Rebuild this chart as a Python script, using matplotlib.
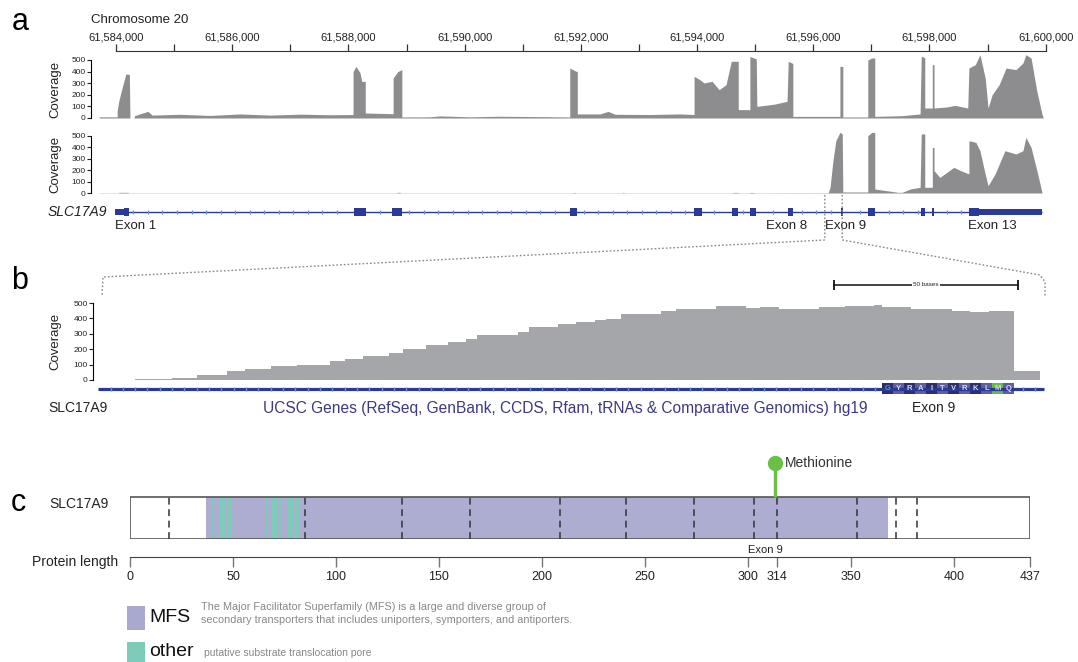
import numpy as np
import matplotlib
matplotlib.use('Agg')
import matplotlib.pyplot as plt
from matplotlib.patches import Rectangle
from matplotlib.ticker import MultipleLocator, FuncFormatter
import matplotlib.transforms as mtransforms

plt.rcParams['font.family'] = ['Liberation Sans', 'DejaVu Sans']

W, H = 1078, 662

# ---------------- dados ----------------
CHR_START = 61584000  # posicao 0 (kb)

# cobertura RNA-seq 1 (kb a partir de 61,584,000 ; leituras)
cov1_kb = [-0.29, 0.02, 0.02, 0.05, 0.10, 0.17, 0.23, 0.24, 0.31, 0.32, 0.41, 0.55, 0.62,
           1.10, 1.62, 2.13, 2.65, 3.17, 3.68, 4.08, 4.08, 4.13, 4.20, 4.23, 4.29, 4.29,
           4.77, 4.77, 4.85, 4.92, 4.92, 5.40, 5.58, 6.09, 6.61, 7.30, 7.81, 7.81, 7.92,
           7.94, 7.94, 8.33, 8.47, 8.59, 9.19, 9.71, 9.95, 9.95, 10.05, 10.12, 10.26, 10.38,
           10.50, 10.59, 10.71, 10.71, 10.91, 10.91, 11.02, 11.03, 11.34, 11.55, 11.57, 11.65,
           11.65, 12.46, 12.46, 12.51, 12.51, 12.94, 12.94, 13.01, 13.06, 13.06, 13.53, 13.84,
           13.86, 13.92, 13.92, 14.05, 14.05, 14.08, 14.08, 14.30, 14.44, 14.66, 14.68, 14.79,
           14.87, 14.96, 15.01, 15.08, 15.20, 15.32, 15.49, 15.61, 15.66, 15.75, 15.85, 15.94,
           15.96]
cov1 = [10, 10, 60, 150, 250, 380, 375, 0, 0, 20, 35, 57, 25,
        32, 22, 35, 25, 33, 28, 30, 400, 445, 390, 316, 316, 43,
        37, 345, 400, 417, 9, 10, 18, 10, 15, 12, 9, 431, 402,
        402, 35, 35, 57, 32, 30, 35, 30, 359, 330, 302, 316, 244,
        287, 489, 489, 72, 72, 530, 510, 100, 120, 144, 489, 470,
        14, 14, 445, 445, 9, 9, 500, 517, 517, 14, 20, 35,
        532, 520, 86, 86, 460, 460, 86, 95, 109, 86, 431, 460,
        546, 345, 86, 201, 287, 431, 417, 474, 546, 517, 230, 29,
        0]

# cobertura RNA-seq 2
cov2_kb = [-0.29, 0.05, 0.05, 0.21, 0.21, 4.84, 4.84, 4.89, 4.89, 7.88, 7.88, 7.92, 8.72,
           8.72, 8.76, 10.62, 10.62, 10.71, 10.71, 10.91, 10.91, 10.98, 10.98, 12.26, 12.29,
           12.34, 12.39, 12.46, 12.50, 12.51, 12.94, 12.94, 13.01, 13.06, 13.06, 13.46, 13.53,
           13.67, 13.84, 13.86, 13.92, 13.92, 14.05, 14.05, 14.08, 14.08, 14.18, 14.42, 14.54,
           14.68, 14.68, 14.80, 14.87, 14.96, 15.01, 15.13, 15.30, 15.49, 15.61, 15.66, 15.75,
           15.85, 15.94]
cov2 = [2, 2, 6, 6, 2, 2, 6, 6, 2, 2, 6, 2, 2,
        6, 2, 2, 5, 5, 2, 2, 5, 5, 2, 3, 50,
        284, 459, 532, 518, 9, 9, 503, 532, 532, 35, 6, 6,
        35, 50, 518, 518, 50, 50, 400, 400, 196, 137, 225, 196,
        167, 459, 444, 371, 167, 64, 167, 371, 342, 371, 488, 400,
        196, 0]

# exons SLC17A9 (kb)
exon_start = [-0.02, 0.14, 4.10, 4.75, 7.81, 9.95, 10.60, 10.91, 11.57, 12.48, 12.94, 13.86, 14.05, 14.68, 14.85]
exon_end = [0.14, 0.22, 4.30, 4.92, 7.94, 10.09, 10.71, 11.02, 11.65, 12.51, 13.06, 13.92, 14.08, 14.85, 15.94]
exon_utr = [True, False, False, False, False, False, False, False, False, False, False, False, False, False, True]
exon_labels = {'Exon 1': -0.02, 'Exon 8': 11.89, 'Exon 9': 12.20, 'Exon 13': 14.66}

# painel b: cobertura por base (degraus)
b_edges = [0, 10, 20, 27, 35, 40, 47, 54, 63, 67, 72, 79, 83, 89, 95, 100, 103, 114, 117, 125,
           130, 135, 138, 142, 153, 157, 168, 176, 180, 185, 189, 196, 203, 211, 213, 221, 225,
           232, 237, 242, 249, 256]
b_cov = [3, 9, 15, 30, 59, 70, 89, 98, 126, 137, 156, 176, 200, 230, 245, 267, 293, 310, 347, 365,
         375, 388, 399, 431, 449, 464, 480, 469, 471, 460, 458, 475, 480, 486, 473, 464, 460,
         447, 442, 447, 59]
aminoacidos = ['G', 'Y', 'R', 'A', 'I', 'T', 'V', 'R', 'K', 'L', 'M', 'Q']
aa_inicio = 213

# painel c: proteina
prot_len = 437
mfs = (37, 368)
other_ini = [40, 43, 47, 65.5, 69, 73, 76.5, 80]
other_fim = [41, 46, 49, 67, 71.5, 74, 79, 82]
limites_exon = [19, 85, 132, 165, 209, 241, 274, 303, 314, 353, 372, 382]
met_pos = 313
ticks_prot = [0, 50, 100, 150, 200, 250, 300, 314, 350, 400, 437]

# ---------------- figura ----------------
fig = plt.figure(figsize=(W / 100, H / 100), dpi=100)


def px_axes(l, t, r, b):
    return fig.add_axes([l / W, 1 - b / H, (r - l) / W, (b - t) / H])


XL = ((91 - 116) / 58.1, (1046 - 116) / 58.1)
CINZA = '#8d8d90'
AZUL = '#2b3a98'
AZUL_CLARO = '#6a8be0'

# regua do cromossomo
ax_r = px_axes(91, 51, 1046, 58)
ax_r.set_xlim(XL)
ax_r.set_ylim(0, 1)
for s in ['left', 'right', 'bottom']:
    ax_r.spines[s].set_visible(False)
ax_r.spines['top'].set_bounds(0, 16)
ax_r.spines['top'].set_color('#333333')
ax_r.set_yticks([])
ax_r.xaxis.set_ticks_position('top')
ax_r.xaxis.set_label_position('top')
ax_r.xaxis.set_major_locator(MultipleLocator(2))
ax_r.xaxis.set_minor_locator(MultipleLocator(1))
ax_r.xaxis.set_major_formatter(FuncFormatter(lambda v, p: f'{CHR_START + v * 1000:,.0f}'))
ax_r.tick_params(axis='x', which='both', direction='out', length=5, width=0.9, colors='#333333',
                 labelsize=8, pad=1)
ax_r.tick_params(axis='x', labelcolor='#222222')


def cobertura(top, bottom, kb, vals):
    ax = px_axes(91, top, 1046, bottom)
    ax.fill_between(kb, vals, color=CINZA, lw=0, clip_on=False)
    ax.set_xlim(XL)
    ax.set_ylim(0, 500)
    for s in ['top', 'right', 'bottom']:
        ax.spines[s].set_visible(False)
    ax.spines['left'].set_linewidth(0.8)
    ax.set_xticks([])
    ax.set_yticks(range(0, 501, 100))
    ax.tick_params(axis='y', labelsize=6, length=3, width=0.8, pad=1, colors='#222222')
    ax.patch.set_alpha(0)
    return ax


ax_a1 = cobertura(60, 118, cov1_kb, cov1)
ax_a2 = cobertura(136, 193, cov2_kb, cov2)

# gene SLC17A9
ax_g = px_axes(91, 200, 1046, 224)
ax_g.set_xlim(XL)
ax_g.set_ylim(-1, 1)
ax_g.axis('off')
ax_g.hlines(0, exon_start[0], exon_end[-1], color=AZUL, lw=1.0)
chev = np.arange(0.3, 15.9, 0.25)
dentro = np.zeros(len(chev), bool)
for a, b in zip(exon_start, exon_end):
    dentro |= (chev > a - 0.05) & (chev < b + 0.05)
ax_g.plot(chev[~dentro], np.zeros((~dentro).sum()), '|', color=AZUL_CLARO, ms=3, mew=0.9)
for a, b, utr in zip(exon_start, exon_end, exon_utr):
    h = 0.22 if utr else 0.36
    ax_g.add_patch(Rectangle((a, -h), b - a, 2 * h, color=AZUL, lw=0))
for nome, x in exon_labels.items():
    ax_g.text(x, -1.2, nome, ha='right' if nome == 'Exon 8' else 'left', va='center',
              fontsize=9.5, color='#222222', clip_on=False)

# painel b: cobertura
BXL = (-5 / 3.68, (1046 - 98) / 3.68)
ax_b = px_axes(93, 303, 1046, 380)
ax_b.stairs(b_cov, b_edges, fill=True, color='#a4a6a9', lw=0)
ax_b.set_xlim(BXL)
ax_b.set_ylim(0, 500)
for s in ['top', 'right', 'bottom']:
    ax_b.spines[s].set_visible(False)
ax_b.spines['left'].set_linewidth(0.8)
ax_b.set_xticks([])
ax_b.set_yticks(range(0, 501, 100))
ax_b.tick_params(axis='y', labelsize=6, length=3, width=0.8, pad=1, colors='#222222')
ax_b.patch.set_alpha(0)

# barra de escala 50 bases
tr = mtransforms.blended_transform_factory(ax_b.transData, ax_b.transAxes)
yb = (380 - 285) / 77
ax_b.plot([200, 250], [yb, yb], color='#111111', lw=1.1, transform=tr, clip_on=False)
ax_b.plot([200, 250], [yb, yb], '|', color='#111111', ms=7, mew=1.3, transform=tr, clip_on=False)
ax_b.text(225, yb, '50 bases', transform=tr, ha='center', va='center', fontsize=4.5,
          color='#222222', bbox=dict(fc='white', ec='none', pad=0.6))

# painel b: gene + aminoacidos
ax_bg = px_axes(93, 382, 1046, 395)
ax_bg.set_xlim(BXL)
ax_bg.set_ylim(-1, 1)
ax_bg.axis('off')
ax_bg.hlines(0, 0, 257, color=AZUL, lw=2.3)
chev_b = np.arange(3.4, 257, 3.35)
chev_b = chev_b[(chev_b < aa_inicio - 1) | (chev_b > aa_inicio + 3 * len(aminoacidos) + 1)]
ax_bg.plot(chev_b, np.zeros(len(chev_b)), '|', color=AZUL_CLARO, ms=3.5, mew=1)
for i, aa in enumerate(aminoacidos):
    x0 = aa_inicio + 3 * i
    if aa == 'M':
        cor = '#67bd43'
    elif i % 2 == 0:
        cor = '#2e2e6c'
    else:
        cor = '#5f5f9f'
    ax_bg.add_patch(Rectangle((x0, -0.85), 3, 1.7, color=cor, lw=0))
    ax_bg.text(x0 + 1.5, 0, aa, ha='center', va='center', fontsize=5.5, fontweight='bold',
               color='#27b3b0' if i == 0 else '#d8d8ee')

# painel c: proteina
ax_c = px_axes(130, 455, 1030, 539)
ax_c.set_xlim(0, prot_len)
ax_c.set_ylim(0, 2)
ax_c.axis('off')
ax_c.add_patch(Rectangle((mfs[0], 0), mfs[1] - mfs[0], 1, color='#adadd2', lw=0))
for a, b in zip(other_ini, other_fim):
    ax_c.add_patch(Rectangle((a, 0), b - a, 1, color='#7ecbb9', lw=0))
ax_c.vlines(limites_exon, 0, 1, colors='#333333', lw=1.1, linestyles=(0, (4.5, 3)))
ax_c.add_patch(Rectangle((0, 0), prot_len, 1, fill=False, ec='#555555', lw=1.2))
y_met = (539 - 463) / 42
ax_c.plot([met_pos, met_pos], [1, y_met], color='#6abf45', lw=2.4, solid_capstyle='butt')
ax_c.plot([met_pos], [y_met], 'o', color='#6abf45', ms=10)
ax_c.text(met_pos + 5, y_met, 'Methionine', ha='left', va='center', fontsize=10, color='#333333')
ax_c.text((limites_exon[7] + limites_exon[8]) / 2, -0.27, 'Exon 9', ha='center', va='center',
          fontsize=8, color='#222222')

# regua da proteina
ax_cr = px_axes(130, 550, 1030, 557)
ax_cr.set_xlim(0, prot_len)
ax_cr.set_ylim(0, 1)
for s in ['left', 'right', 'top']:
    ax_cr.spines[s].set_visible(False)
ax_cr.spines['bottom'].set_color('#444444')
ax_cr.set_yticks([])
ax_cr.set_xticks(ticks_prot)
ax_cr.tick_params(axis='x', direction='out', length=7, width=1, colors='#777777', labelsize=9,
                  pad=3, labelcolor='#222222')
ax_cr.patch.set_alpha(0)

# ---------------- textos e decoracoes ----------------
ov = fig.add_axes([0, 0, 1, 1])
ov.set_xlim(0, W)
ov.set_ylim(H, 0)
ov.axis('off')
ov.patch.set_alpha(0)

ov.text(20, 22, 'a', fontsize=22, ha='center', va='center')
ov.text(20, 281, 'b', fontsize=22, ha='center', va='center')
ov.text(18, 503, 'c', fontsize=22, ha='center', va='center')
ov.text(91, 20, 'Chromosome 20', fontsize=9.5, ha='left', va='center', color='#222222')
for yc in [(60 + 118) / 2, (136 + 193) / 2, (303 + 380) / 2]:
    ov.text(55, yc, 'Coverage', rotation=90, fontsize=9.5, ha='center', va='center', color='#222222')
ov.text(107, 212, 'SLC17A9', fontsize=10, style='italic', ha='right', va='center', color='#222222')
ov.text(48, 408, 'SLC17A9', fontsize=10, ha='left', va='center', color='#222222')
ov.text(565, 408, 'UCSC Genes (RefSeq, GenBank, CCDS, Rfam, tRNAs & Comparative Genomics) hg19',
        fontsize=11.2, ha='center', va='center', color='#3a3a86')
ov.text(912, 408, 'Exon 9', fontsize=10, ha='left', va='center', color='#222222')
ov.text(49, 504, 'SLC17A9', fontsize=10, ha='left', va='center', color='#222222')
ov.text(32, 562, 'Protein length', fontsize=10, ha='left', va='center', color='#222222')


# linhas tracejadas de zoom
def to_px(ax, x, y):
    X, Y = ax.transData.transform((x, y))
    return X, H - Y


xl, _ = to_px(ax_g, 12.20, 0)
xr, _ = to_px(ax_g, 12.50, 0)
ov.plot([xl, xl, 103, 102], [195, 240, 277, 296], ls=(0, (1.2, 1.5)), color='#888888', lw=1)
ov.plot([xr, xr, 1040, 1045, 1045], [195, 240, 275, 282, 297], ls=(0, (1.2, 1.5)), color='#888888', lw=1)

# legenda
ov.add_patch(Rectangle((127, 606), 18, 24, color='#a9a9cf', lw=0))
ov.add_patch(Rectangle((127, 642), 18, 22, color='#7ecbb9', lw=0, clip_on=False))
ov.text(149, 618, 'MFS', fontsize=14, ha='left', va='center', color='#111111')
ov.text(149, 652, 'other', fontsize=14, ha='left', va='center', color='#111111')
ov.text(201, 607, 'The Major Facilitator Superfamily (MFS) is a large and diverse group of',
        fontsize=7.8, ha='left', va='center', color='#888888')
ov.text(201, 620, 'secondary transporters that includes uniporters, symporters, and antiporters.',
        fontsize=7.8, ha='left', va='center', color='#888888')
ov.text(204, 653, 'putative substrate translocation pore', fontsize=7.5, ha='left', va='center',
        color='#888888')

fig.savefig('out.png', dpi=100)
